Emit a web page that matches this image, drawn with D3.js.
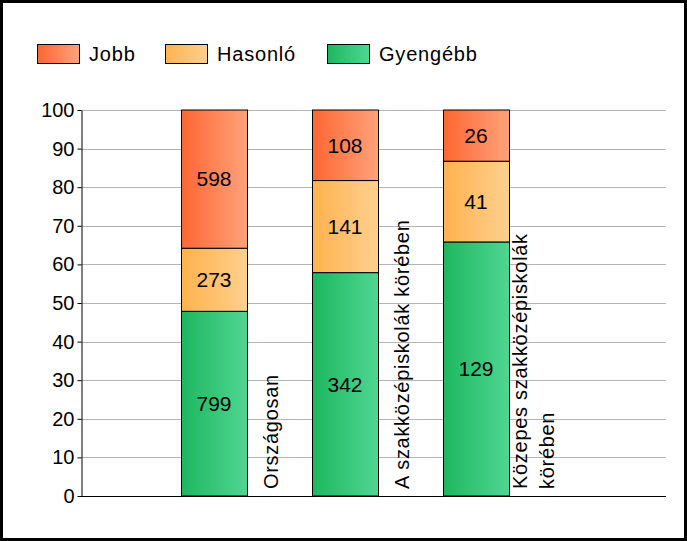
<!DOCTYPE html>
<html><head><meta charset="utf-8">
<script src="https://cdn.jsdelivr.net/npm/d3@7"></script>
<style>html,body{margin:0;padding:0;background:#fff;}svg{display:block;}</style>
</head><body>
<svg id="c" width="687" height="541"></svg>
<script>
const categories = ["Országosan", "A szakközépiskolák körében", "Közepes szakközépiskolák körében"];
const categoryLines = [["Országosan"], ["A szakközépiskolák körében"], ["Közepes szakközépiskolák", "körében"]];
const seriesNames = ["Gyengébb", "Hasonló", "Jobb"];
const gyengebb = [799, 342, 129];
const hasonlo = [273, 141, 41];
const jobb = [598, 108, 26];
const yTicks = [0, 10, 20, 30, 40, 50, 60, 70, 80, 90, 100];
const legendOrder = ["Jobb", "Hasonló", "Gyengébb"];
const gradColors = {
  "Jobb": ["#FF6633", "#FFA27A"],
  "Hasonló": ["#FFB24F", "#FFD08E"],
  "Gyengébb": ["#1DB760", "#50D692"]
};

const svg = d3.select("#c");
const font = "Arial, 'Liberation Sans', sans-serif";

// border
svg.append("rect").attr("x", 1.5).attr("y", 1.5).attr("width", 684).attr("height", 538)
  .attr("fill", "#fff").attr("stroke", "#000").attr("stroke-width", 3);

// gradients
const defs = svg.append("defs");
Object.entries(gradColors).forEach(([k, c], i) => {
  const g = defs.append("linearGradient").attr("id", "g" + i).attr("x1", "0").attr("x2", "1").attr("y1", "0").attr("y2", "0");
  g.append("stop").attr("offset", "0").attr("stop-color", c[0]);
  g.append("stop").attr("offset", "1").attr("stop-color", c[1]);
});
const gradId = k => "url(#g" + Object.keys(gradColors).indexOf(k) + ")";

const plotL = 81, plotR = 666, plotT = 110, plotB = 496;
const y = d3.scaleLinear().domain([0, 100]).range([plotB, plotT]);
const x = d3.scaleBand().domain(categories).range([181, 509]).paddingInner(65 / 131).paddingOuter(0);

// gridlines
svg.append("g").selectAll("line").data(yTicks.filter(d => d > 0)).join("line")
  .attr("x1", plotL).attr("x2", plotR).attr("y1", d => Math.round(y(d)) + 0.5).attr("y2", d => Math.round(y(d)) + 0.5)
  .attr("stroke", "#b4b4b4").attr("stroke-width", 1);

// y axis
const yAxis = svg.append("g").attr("transform", `translate(${plotL + 0.5},0)`)
  .call(d3.axisLeft(y).tickValues(yTicks).tickSize(4).tickSizeOuter(0).tickPadding(3));
yAxis.select(".domain").attr("stroke", "#000");
yAxis.selectAll(".tick line").attr("stroke", "#000");
yAxis.selectAll("text").attr("font-family", font).attr("font-size", 20).attr("fill", "#000");

// stacked data
const rows = categories.map((c, i) => {
  const tot = gyengebb[i] + hasonlo[i] + jobb[i];
  return { cat: c, "Gyengébb": gyengebb[i], "Hasonló": hasonlo[i], "Jobb": jobb[i], tot };
});
const pctRows = rows.map(r => {
  const o = { cat: r.cat };
  seriesNames.forEach(s => o[s] = r[s] / r.tot * 100);
  return o;
});
const stack = d3.stack().keys(seriesNames)(pctRows);

stack.forEach(layer => {
  const key = layer.key;
  const g = svg.append("g");
  g.selectAll("rect").data(layer).join("rect")
    .attr("x", d => Math.round(x(d.data.cat)) + 0.5)
    .attr("y", d => y(d[1]))
    .attr("width", Math.round(x.bandwidth()))
    .attr("height", d => y(d[0]) - y(d[1]))
    .attr("fill", gradId(key)).attr("stroke", "#000").attr("stroke-width", 1);
  g.selectAll("text").data(layer).join("text")
    .attr("x", d => x(d.data.cat) + x.bandwidth() / 2)
    .attr("y", d => (y(d[0]) + y(d[1])) / 2)
    .attr("dy", "0.35em").attr("text-anchor", "middle")
    .attr("font-family", font).attr("font-size", 21).attr("fill", "#000")
    .text((d, i) => rows[i][key]);
});

// x axis baseline
svg.append("line").attr("x1", plotL).attr("x2", plotR).attr("y1", plotB + 0.5).attr("y2", plotB + 0.5)
  .attr("stroke", "#000").attr("stroke-width", 1);

// category labels (rotated)
categories.forEach((c, i) => {
  const lines = categoryLines[i];
  const cx = x(c) + 90;
  const lh = 27;
  const t = svg.append("text")
    .attr("transform", `translate(${cx},489) rotate(-90)`)
    .attr("font-family", font).attr("font-size", 20).attr("letter-spacing", 0.7)
    .attr("fill", "#000").attr("text-anchor", "start");
  lines.forEach((ln, j) => {
    t.append("tspan").attr("x", 0)
      .attr("y", (j - (lines.length - 1) / 2) * lh)
      .attr("dy", "0.35em").text(ln);
  });
});

// legend
const legX = [37, 165, 327];
legendOrder.forEach((k, i) => {
  svg.append("rect").attr("x", legX[i] + 0.5).attr("y", 44.5).attr("width", 42).attr("height", 19)
    .attr("fill", gradId(k)).attr("stroke", "#000").attr("stroke-width", 1);
  svg.append("text").attr("x", legX[i] + 52).attr("y", 54).attr("dy", "0.35em")
    .attr("font-family", font).attr("font-size", 20).attr("letter-spacing", 0.8)
    .attr("fill", "#000").text(k);
});
</script>
</body></html>
